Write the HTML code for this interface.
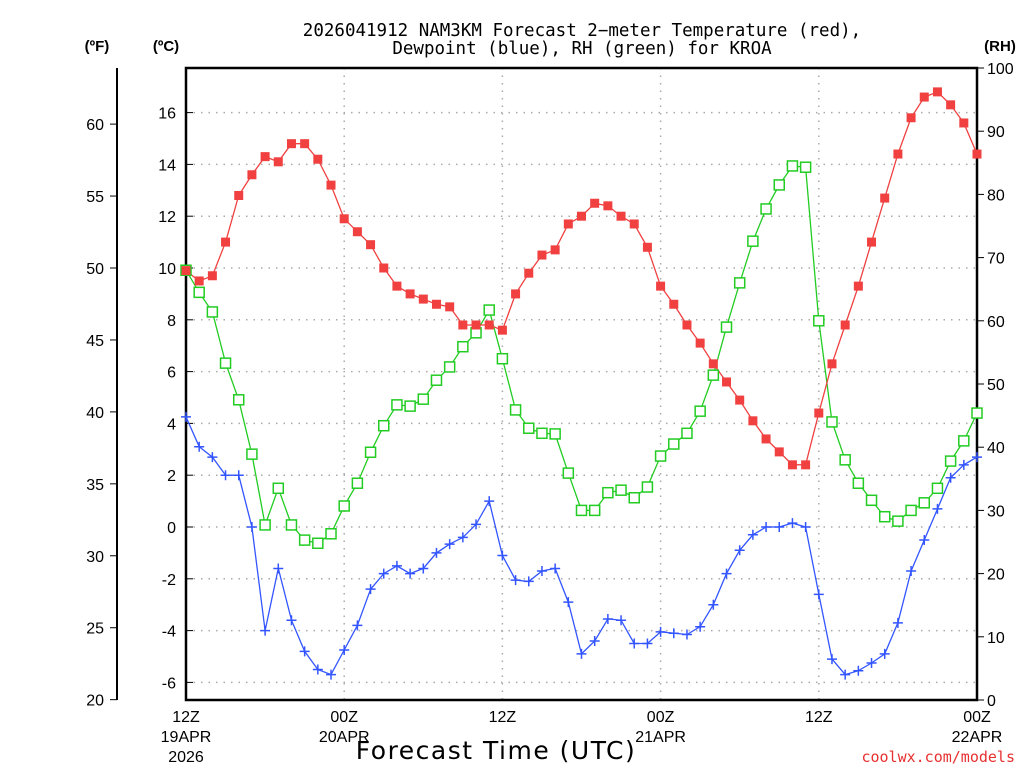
<!DOCTYPE html>
<html><head><meta charset="utf-8">
<style>
html,body{margin:0;padding:0;background:#fff;}
svg{display:block;font-family:"DejaVu Sans Mono","Liberation Mono",monospace;}
.lab{font-family:"Liberation Sans",sans-serif;}
</style></head>
<body>
<svg id="chart" width="1024" height="768" viewBox="0 0 1024 768">
  <g font-size="17.5" text-anchor="middle" fill="#000">
    <text x="582" y="36">2026041912 NAM3KM Forecast 2−meter Temperature (red),</text>
    <text x="582" y="54">Dewpoint (blue), RH (green) for KROA</text>
  </g>
  <text x="97" y="51" font-size="15" font-weight="bold" text-anchor="middle" class="lab">(ºF)</text>
  <text x="166" y="51" font-size="15" font-weight="bold" text-anchor="middle" class="lab">(ºC)</text>
  <text x="1000" y="51" font-size="15" font-weight="bold" text-anchor="middle" class="lab">(RH)</text>
  <g id="grid"></g>
  <g id="axes"></g>
  <g id="series"></g>
  <text x="496" y="759" font-size="25" text-anchor="middle" font-family="DejaVu Sans, sans-serif" letter-spacing="1.5">Forecast Time (UTC)</text>
  <text x="1015" y="762" font-size="15" text-anchor="end" fill="#e83030">coolwx.com/models</text>
</svg>
<script>
const tempC=[9.9,9.5,9.7,11.0,12.8,13.6,14.3,14.1,14.8,14.8,14.2,13.2,11.9,11.4,10.9,10.0,9.3,9.0,8.8,8.6,8.5,7.8,7.8,7.8,7.6,9.0,9.8,10.5,10.7,11.7,12.0,12.5,12.4,12.0,11.7,10.8,9.3,8.6,7.8,7.1,6.3,5.6,4.9,4.1,3.4,2.9,2.4,2.4,4.4,6.3,7.8,9.3,11.0,12.7,14.4,15.8,16.6,16.8,16.3,15.6,14.4];
const dewC=[4.25,3.1,2.7,2.0,2.0,0,-4.0,-1.6,-3.6,-4.8,-5.5,-5.7,-4.75,-3.8,-2.4,-1.8,-1.5,-1.8,-1.6,-1.0,-0.66,-0.4,0.1,1.0,-1.1,-2.05,-2.1,-1.7,-1.6,-2.9,-4.9,-4.4,-3.55,-3.6,-4.5,-4.5,-4.05,-4.1,-4.15,-3.85,-3.0,-1.8,-0.9,-0.3,0,0,0.15,0,-2.6,-5.1,-5.7,-5.55,-5.25,-4.9,-3.7,-1.7,-0.5,0.7,1.9,2.4,2.7];
const rh=[68,64.5,61.4,53.3,47.5,38.9,27.7,33.5,27.7,25.3,24.8,26.3,30.7,34.3,39.2,43.4,46.7,46.5,47.6,50.6,52.7,55.9,58.1,61.7,54,45.9,43,42.2,42.1,35.9,30,30,32.8,33.2,32,33.7,38.6,40.5,42.2,45.7,51.4,59,66,72.6,77.7,81.5,84.5,84.3,60,44,38,34.3,31.6,29,28.3,30,31.2,33.5,37.8,41,45.4];
const cTicks=[-6,-4,-2,0,2,4,6,8,10,12,14,16];
const fTicks=[20,25,30,35,40,45,50,55,60];
const rhTicks=[0,10,20,30,40,50,60,70,80,90,100];
const xTickHours=[0,12,24,36,48,60];
const xTickLabels=[["12Z","19APR","2026"],["00Z","20APR"],["12Z"],["00Z","21APR"],["12Z"],["00Z","22APR"]];

const L=186,R=977,T=68,B=700,NH=60;
const xs=h=>L+(R-L)*h/NH;
const yC=c=>527-c*25.9;
const yF=f=>yC((f-32)*5/9);
const yRH=v=>B-(B-T)*v/100;
const NS="http://www.w3.org/2000/svg";
function mk(tag,attrs,parent){const e=document.createElementNS(NS,tag);for(const k in attrs)e.setAttribute(k,attrs[k]);parent.appendChild(e);return e;}
const grid=document.getElementById('grid'),axes=document.getElementById('axes'),series=document.getElementById('series');

cTicks.forEach(c=>{
  const gl=mk('line',{x1:L,x2:R,y1:yC(c),y2:yC(c),stroke:'#aaa','stroke-width':1.5,'stroke-dasharray':'1.5 6'},grid);
  
  
  const t=mk('line',{x1:L,x2:L+7,y1:yC(c),y2:yC(c),stroke:'#000','stroke-width':1},axes);
  
  
  const tx=mk('text',{x:176,y:yC(c)+6,'font-size':16,'text-anchor':'end','class':'lab'},axes);
  tx.textContent=c;
  
  
});
xTickHours.forEach((h,i)=>{
  if(h>0&&h<NH){
    const gl=mk('line',{x1:xs(h),x2:xs(h),y1:T,y2:B,stroke:'#aaa','stroke-width':1.5,'stroke-dasharray':'1.5 6'},grid);
    
    
  }
  xTickLabels[i].forEach((s,j)=>{
    const tx=mk('text',{x:xs(h),y:722+j*20,'font-size':16,'text-anchor':'middle','class':'lab'},axes);
    tx.textContent=s;
    
    
  });
});
fTicks.forEach(f=>{
  const t=mk('line',{x1:110,x2:117,y1:yF(f),y2:yF(f),stroke:'#000','stroke-width':1},axes);
  
  
  const tx=mk('text',{x:104,y:yF(f)+6,'font-size':16,'text-anchor':'end','class':'lab'},axes);
  tx.textContent=f;
  
  
});
rhTicks.forEach(v=>{
  const t=mk('line',{x1:R,x2:R+7,y1:yRH(v),y2:yRH(v),stroke:'#000','stroke-width':1},axes);
  
  
  const tx=mk('text',{x:987,y:yRH(v)+6,'font-size':16,'text-anchor':'start','class':'lab'},axes);
  tx.textContent=v;
  
  
});
const fAxis=mk('line',{x1:117,x2:117,y1:T,y2:B,stroke:'#000','stroke-width':2},axes);


const frame=mk('rect',{x:L,y:T,width:R-L,height:B-T,fill:'none',stroke:'#000','stroke-width':2.5},axes);



function line(vals,yfn,color,name){
  const pts=vals.map((v,i)=>xs(i).toFixed(1)+','+yfn(v).toFixed(1)).join(' ');
  const pl=mk('polyline',{points:pts,fill:'none',stroke:color,'stroke-width':1.3},series);
  
  
}
line(rh,yRH,'#22cc22','rh');
line(dewC,yC,'#3355ff','dewpoint');
line(tempC,yC,'#f04040','temperature');
rh.forEach((v,i)=>{
  const m=mk('rect',{x:xs(i)-5,y:yRH(v)-5,width:10,height:10,fill:'#fff',stroke:'#22cc22','stroke-width':1.5},series);
  
  
});
dewC.forEach((v,i)=>{
  const x=xs(i),y=yC(v);
  const m=mk('path',{d:`M${x-5},${y}H${x+5}M${x},${y-5}V${y+5}`,stroke:'#3355ff','stroke-width':1.5},series);
  
  
});
tempC.forEach((v,i)=>{
  const m=mk('rect',{x:xs(i)-4.5,y:yC(v)-4.5,width:9,height:9,fill:'#f04040'},series);
  
  
});
</script>
</body></html>
